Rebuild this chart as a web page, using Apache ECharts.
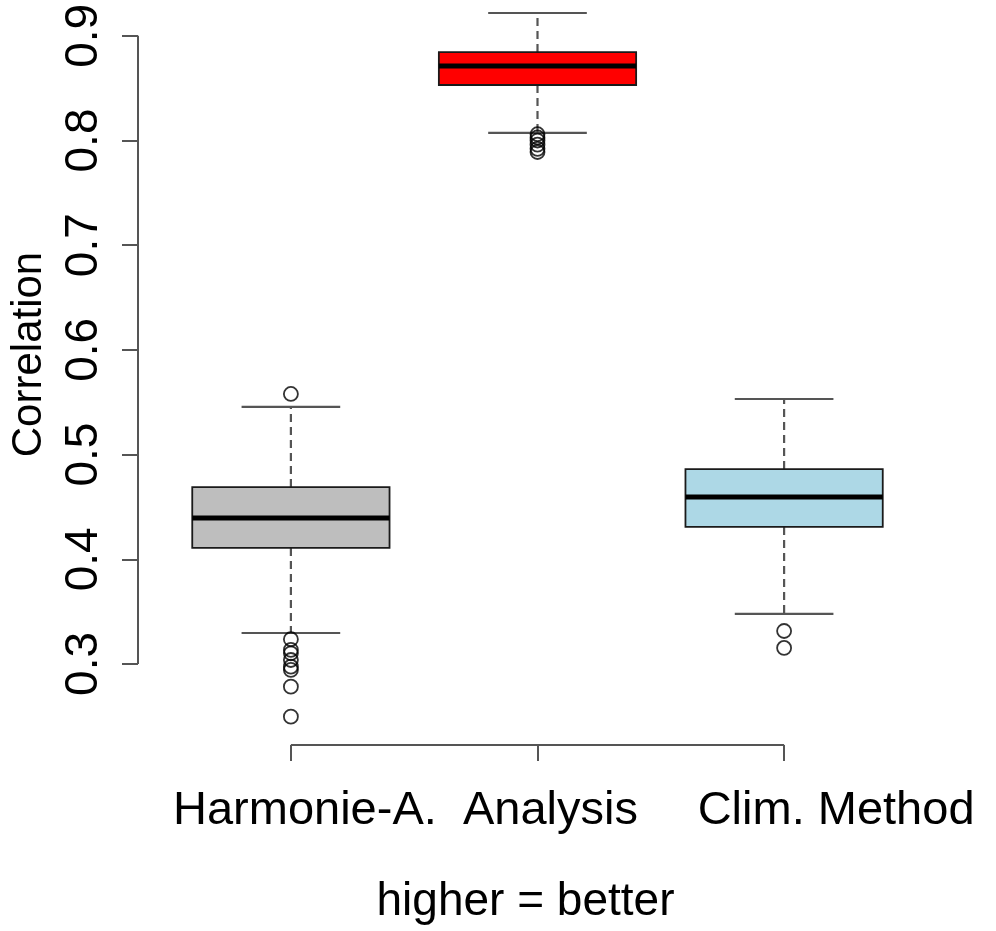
<!DOCTYPE html>
<html>
<head>
<meta charset="utf-8">
<script src="https://cdn.jsdelivr.net/npm/echarts@6/dist/echarts.min.js"></script>
<style>
  html, body { margin: 0; padding: 0; background: #fff; }
  #chart { width: 996px; height: 931px; }
</style>
</head>
<body>
<div id="chart"></div>
<script>
// ---- Data ----
const categories = ['Harmonie-A.', 'Analysis', 'Clim. Method'];
const lowerWhisker = [0.3296, 0.8072, 0.3478];
const q1 = [0.4108, 0.8530, 0.4309];
const medianVals = [0.4394, 0.8712, 0.4595];
const q3 = [0.4690, 0.8845, 0.4862];
const upperWhisker = [0.5455, 0.9218, 0.5531];
const outliersHarmonie = [0.5579, 0.3236, 0.3134, 0.3102, 0.3038, 0.2974, 0.2943, 0.2783, 0.2497];
const outliersAnalysis = [0.8060, 0.8030, 0.8000, 0.7960, 0.7920, 0.7890];
const outliersClim = [0.3315, 0.3153];
const yTicks = [0.3, 0.4, 0.5, 0.6, 0.7, 0.8, 0.9];
const xTicks = [1, 2, 3];

// ---- Styles ----
const boxColors = ['#BEBEBE', '#FF0000', '#ADD8E6'];
const labelShift = [28, 26, 104]; // left padding to reproduce label offsets
const FONT = 'Liberation Sans';
const AXIS_COLOR = '#555';
const X_MIN = 0.38, X_MAX = 3.62;
const Y_MIN = 0.2226, Y_MAX = 0.9342;

const boxData = categories.map((c, i) => [i + 1, lowerWhisker[i], q1[i], medianVals[i], q3[i], upperWhisker[i]]);
const outlierData = [];
[outliersHarmonie, outliersAnalysis, outliersClim].forEach((arr, i) => {
  arr.forEach(v => outlierData.push([i + 1, v]));
});

const richLabels = {};
labelShift.forEach((p, i) => {
  richLabels['l' + i] = { fontFamily: FONT, fontSize: 47, color: '#000', padding: [0, 0, 0, p] };
});

function renderBox(params, api) {
  const x = api.value(0);
  const pLw = api.coord([x, api.value(1)]);
  const pQ1 = api.coord([x, api.value(2)]);
  const pMed = api.coord([x, api.value(3)]);
  const pQ3 = api.coord([x, api.value(4)]);
  const pUw = api.coord([x, api.value(5)]);
  const halfW = api.size([0.8, 0])[0] / 2;
  const capHalf = halfW / 2;
  const cx = pMed[0];
  const whiskerStyle = { stroke: AXIS_COLOR, lineWidth: 2.2, lineDash: [8, 5] };
  const capStyle = { stroke: AXIS_COLOR, lineWidth: 2.2 };
  return {
    type: 'group',
    children: [
      { type: 'line', shape: { x1: cx, y1: pQ3[1], x2: cx, y2: pUw[1] }, style: whiskerStyle },
      { type: 'line', shape: { x1: cx, y1: pQ1[1], x2: cx, y2: pLw[1] }, style: whiskerStyle },
      { type: 'line', shape: { x1: cx - capHalf, y1: pUw[1], x2: cx + capHalf, y2: pUw[1] }, style: capStyle },
      { type: 'line', shape: { x1: cx - capHalf, y1: pLw[1], x2: cx + capHalf, y2: pLw[1] }, style: capStyle },
      { type: 'rect', shape: { x: cx - halfW, y: pQ3[1], width: 2 * halfW, height: pQ1[1] - pQ3[1] },
        style: { fill: boxColors[params.dataIndex], stroke: '#1a1a1a', lineWidth: 1.8 } },
      { type: 'line', shape: { x1: cx - halfW, y1: pMed[1], x2: cx + halfW, y2: pMed[1] },
        style: { stroke: '#000', lineWidth: 5 } }
    ]
  };
}

function renderAxes(params, api) {
  const yTop = api.coord([X_MIN, yTicks[yTicks.length - 1]]);
  const yBot = api.coord([X_MIN, yTicks[0]]);
  const xL = api.coord([xTicks[0], Y_MIN]);
  const xR = api.coord([xTicks[xTicks.length - 1], Y_MIN]);
  const st = { stroke: AXIS_COLOR, lineWidth: 2 };
  return {
    type: 'group',
    children: [
      { type: 'line', shape: { x1: yTop[0], y1: yTop[1], x2: yBot[0], y2: yBot[1] }, style: st },
      { type: 'line', shape: { x1: xL[0], y1: xL[1], x2: xR[0], y2: xR[1] }, style: st }
    ]
  };
}

const chart = echarts.init(document.getElementById('chart'));
chart.setOption({
  animation: false,
  backgroundColor: '#fff',
  grid: { left: 137, right: 59, top: 0, bottom: 186 },
  xAxis: {
    type: 'value', min: X_MIN, max: X_MAX,
    axisLine: { show: false },
    splitLine: { show: false },
    axisTick: { show: true, customValues: xTicks, length: 16, lineStyle: { color: AXIS_COLOR, width: 2 } },
    axisLabel: {
      customValues: xTicks, margin: 43,
      formatter: v => { const i = Math.round(v) - 1; return '{l' + i + '|' + categories[i] + '}'; },
      rich: richLabels,
      fontFamily: FONT, fontSize: 47, color: '#000'
    },
    name: 'higher = better', nameLocation: 'middle', nameGap: 134,
    nameTextStyle: { fontFamily: FONT, fontSize: 46, color: '#000', padding: [0, 24, 0, 0] }
  },
  yAxis: {
    type: 'value', min: Y_MIN, max: Y_MAX,
    axisLine: { show: false },
    splitLine: { show: false },
    axisTick: { show: true, customValues: yTicks, length: 16, lineStyle: { color: AXIS_COLOR, width: 2 } },
    axisLabel: {
      customValues: yTicks, rotate: 90, margin: 31,
      formatter: v => v.toFixed(1),
      fontFamily: FONT, fontSize: 46, color: '#000'
    },
    name: 'Correlation', nameLocation: 'middle', nameRotate: 90, nameGap: 88,
    nameTextStyle: { fontFamily: FONT, fontSize: 42, color: '#000', padding: [0, 0, 0, 36] }
  },
  series: [
    { type: 'custom', renderItem: renderAxes, data: [[0]], silent: true, clip: false },
    {
      type: 'custom', renderItem: renderBox, data: boxData, clip: false,
      encode: { x: 0, y: [1, 2, 3, 4, 5] }
    },
    {
      type: 'scatter', data: outlierData, symbol: 'circle', symbolSize: 14, clip: false,
      itemStyle: { color: 'rgba(0,0,0,0)', borderColor: '#000', borderWidth: 1.8 }
    }
  ]
});
</script>
</body>
</html>
